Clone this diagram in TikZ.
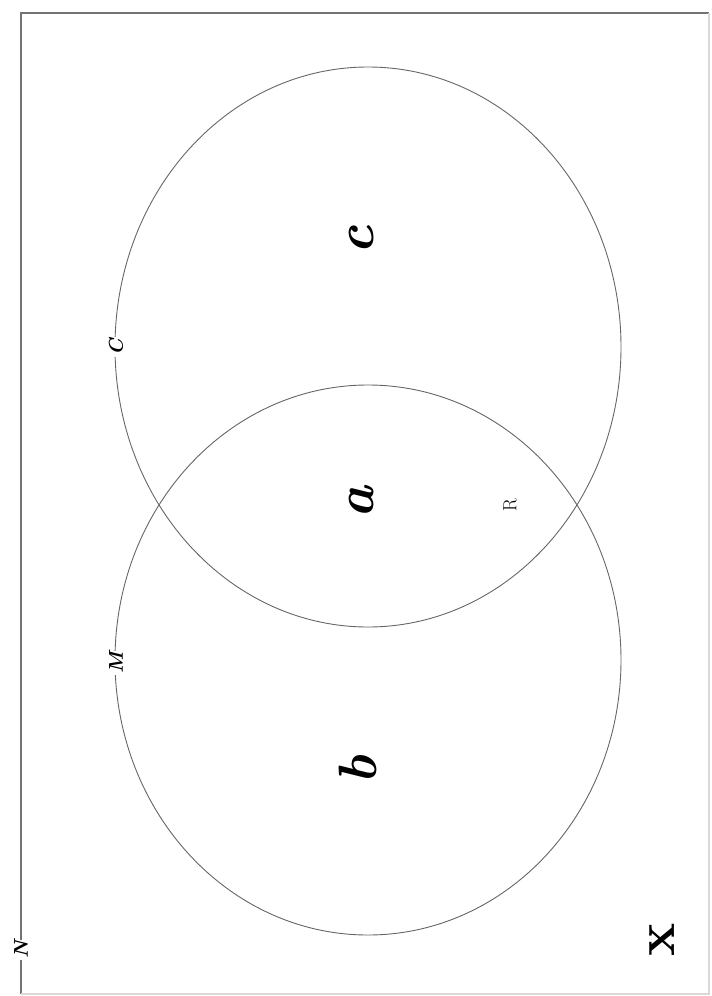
\documentclass[tikz,border=0pt]{standalone}
\begin{document}
\begin{tikzpicture}[x=1pt,y=-1pt,
  ring/.style={draw=black!60, line width=0.9pt},
  frame/.style={draw=black!55, line width=1.4pt},
  tag/.style={fill=white, inner sep=1.5pt, rotate=90, font=\fontsize{20}{22}\selectfont\bfseries\itshape},
  big/.style={rotate=90, inner sep=0pt, font=\fontsize{54}{58}\selectfont\bfseries\itshape}]
\useasboundingbox (0,0) rectangle (712,996);
\draw[frame] (21,994) -- (21,13) -- (709,13);
\draw[frame, draw=black!15] (709,13) -- (709,994) -- (21,994);
\draw[ring] (368,347) ellipse [x radius=253, y radius=280];
\draw[ring] (368,660) ellipse [x radius=253, y radius=275];
\node[tag] (lc) at (116,347) {C};
\node[tag] (lm) at (116,663) {M};
\node[tag, font=\fontsize{19}{21}\selectfont] (lr) at (510,505) {R};
\node[tag] (ln) at (21,950) {N};
\node[big] (c) at (362,240) {c};
\node[big] (a) at (362,503) {a};
\node[big] (b) at (358,770) {b};
\node[big, font=\fontsize{56}{60}\selectfont\bfseries] (x) at (662,940) {x};
\end{tikzpicture}
\end{document}
